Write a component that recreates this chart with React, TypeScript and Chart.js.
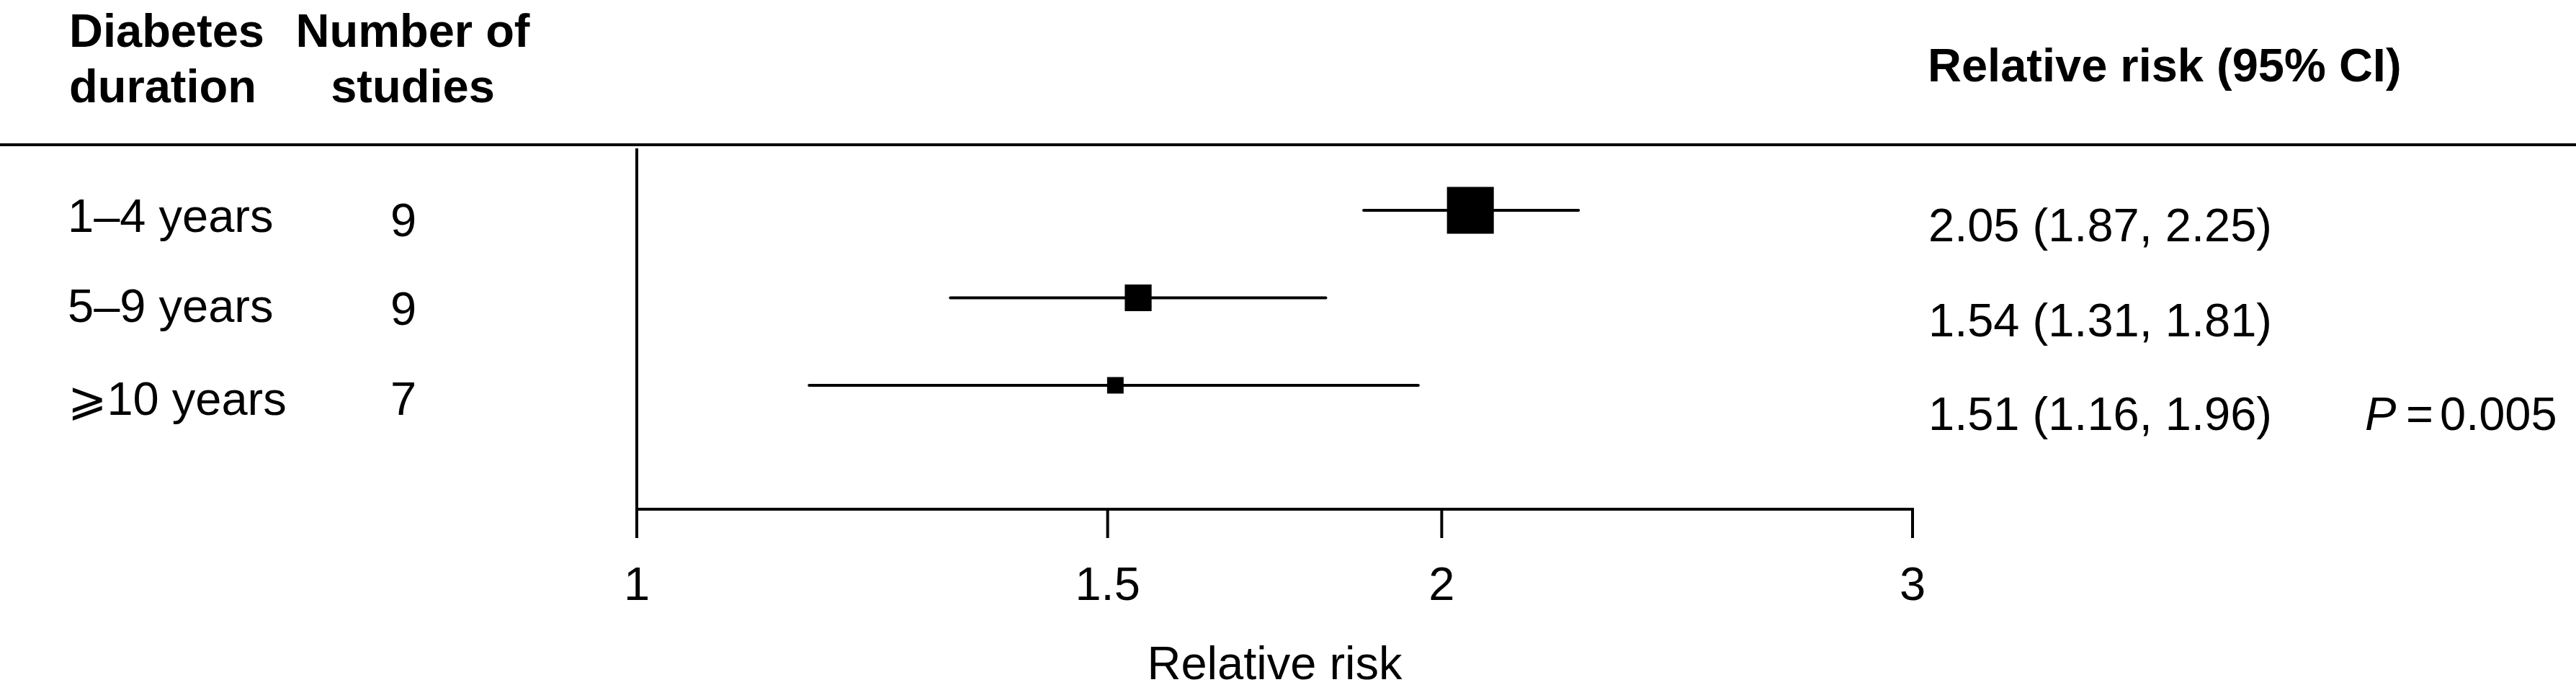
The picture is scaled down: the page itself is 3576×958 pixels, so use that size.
import React, { useEffect, useRef } from "react";
import { Chart, registerables } from "chart.js";

Chart.register(...registerables);

// ---------- data ----------
const durations = ["1–4 years", "5–9 years", "⩾10 years"];
const studyCounts = [9, 9, 7];
const relativeRisk = [2.05, 1.54, 1.51];
const ciLower = [1.87, 1.31, 1.16];
const ciUpper = [2.25, 1.81, 1.96];
const xTickValues = [1, 1.5, 2, 3];
const headerDuration = ["Diabetes", "duration"];
const headerStudies = ["Number of", "studies"];
const headerRR = "Relative risk (95% CI)";
const axisTitle = "Relative risk";
const pLabel = "P";
const pValue = "0.005";

// ---------- layout / style ----------
const W = 3576;
const H = 958;
const FONT_FAMILY = "'Liberation Sans', Arial, Helvetica, 'DejaVu Sans', sans-serif";
const FS = 65;
const LINE_W = 4;
const BOX_SCALE = 3.07; // box side (px) = BOX_SCALE / SE(log RR)
const PLOT = { left: 884, right: 2655, top: 206, bottom: 707 };
const Y_RANGE = { min: -0.708, max: 3.416 };
const TICK_LEN = 40;

const fmt = (v: number) => v.toFixed(2);

export default function App() {
  const ref = useRef<HTMLCanvasElement | null>(null);

  useEffect(() => {
    document.body.style.margin = "0";
    const canvas = ref.current!;
    const boxRadius = relativeRisk.map((_, i) => {
      const se = (Math.log(ciUpper[i]) - Math.log(ciLower[i])) / (2 * 1.96);
      const side = BOX_SCALE / se;
      return side / (2 * Math.SQRT1_2);
    });

    const ciSets = relativeRisk.map((_, i) => ({
      type: "line" as const,
      data: [
        { x: ciLower[i], y: i },
        { x: ciUpper[i], y: i },
      ],
      showLine: true,
      borderColor: "#000",
      borderWidth: LINE_W,
      borderCapStyle: "round" as const,
      pointRadius: 0,
      fill: false,
    }));

    const pointSet = {
      type: "scatter" as const,
      data: relativeRisk.map((v, i) => ({ x: v, y: i })),
      pointStyle: "rect" as const,
      pointRadius: boxRadius,
      backgroundColor: "#000",
      borderColor: "#000",
      borderWidth: 0,
    };

    const decor = {
      id: "forestDecor",
      afterDraw(chart: any) {
        const ctx: CanvasRenderingContext2D = chart.ctx;
        const xs = chart.scales.x;
        const area = chart.chartArea;
        ctx.save();
        ctx.strokeStyle = "#000";
        ctx.fillStyle = "#000";
        ctx.lineWidth = LINE_W;
        ctx.lineCap = "butt";

        // top rule
        ctx.beginPath();
        ctx.moveTo(0, 201);
        ctx.lineTo(W, 201);
        ctx.stroke();

        const x1 = xs.getPixelForValue(xTickValues[0]);
        const xEnd = xs.getPixelForValue(xTickValues[xTickValues.length - 1]);
        // y axis line
        ctx.beginPath();
        ctx.moveTo(x1, area.top);
        ctx.lineTo(x1, area.bottom + LINE_W / 2);
        ctx.stroke();
        // x axis line
        ctx.beginPath();
        ctx.moveTo(x1 - LINE_W / 2, area.bottom);
        ctx.lineTo(xEnd + LINE_W / 2, area.bottom);
        ctx.stroke();
        // ticks + labels
        ctx.font = `${FS}px ${FONT_FAMILY}`;
        ctx.textAlign = "center";
        ctx.textBaseline = "alphabetic";
        xTickValues.forEach((v) => {
          const px = xs.getPixelForValue(v);
          ctx.beginPath();
          ctx.moveTo(px, area.bottom);
          ctx.lineTo(px, area.bottom + TICK_LEN);
          ctx.stroke();
          ctx.fillText(String(v), px, 833);
        });
        // axis title
        ctx.fillText(axisTitle, (x1 + xEnd) / 2, 943);

        // headers
        ctx.font = `bold ${FS}px ${FONT_FAMILY}`;
        ctx.textAlign = "left";
        ctx.fillText(headerDuration[0], 96, 65);
        ctx.fillText(headerDuration[1], 96, 142);
        ctx.textAlign = "center";
        ctx.fillText(headerStudies[0], 573, 65);
        ctx.fillText(headerStudies[1], 573, 142);
        ctx.textAlign = "left";
        ctx.fillText(headerRR, 2676, 113);

        // rows
        const labelBase = [322, 447, 576];
        const countBase = [328, 451, 576];
        const rrBase = [335, 467, 597];
        ctx.font = `${FS}px ${FONT_FAMILY}`;
        durations.forEach((d, i) => {
          ctx.textAlign = "left";
          ctx.fillText(d, 94, labelBase[i]);
          ctx.textAlign = "center";
          ctx.fillText(String(studyCounts[i]), 560, countBase[i]);
          ctx.textAlign = "left";
          ctx.fillText(
            `${fmt(relativeRisk[i])} (${fmt(ciLower[i])}, ${fmt(ciUpper[i])})`,
            2677,
            rrBase[i]
          );
        });
        // P value
        ctx.font = `italic ${FS}px ${FONT_FAMILY}`;
        ctx.fillText(pLabel, 3283, rrBase[2]);
        ctx.font = `${FS}px ${FONT_FAMILY}`;
        ctx.fillText("=", 3340, rrBase[2]);
        ctx.fillText(pValue, 3387, rrBase[2]);
        ctx.restore();
      },
    };

    const chart = new Chart(canvas, {
      type: "scatter",
      data: { datasets: [...ciSets, pointSet] as any },
      options: {
        animation: false,
        responsive: false,
        devicePixelRatio: 1,
        events: [],
        layout: {
          padding: {
            left: PLOT.left,
            right: W - PLOT.right,
            top: PLOT.top,
            bottom: H - PLOT.bottom,
          },
        },
        scales: {
          x: { type: "logarithmic", min: 1, max: 3, display: false },
          y: { type: "linear", reverse: true, min: Y_RANGE.min, max: Y_RANGE.max, display: false },
        },
        plugins: { legend: { display: false }, tooltip: { enabled: false } },
      },
      plugins: [decor],
    });
    return () => chart.destroy();
  }, []);

  return (
    <div style={{ width: W, height: H, background: "#fff" }}>
      <canvas ref={ref} width={W} height={H} style={{ display: "block", width: W, height: H }} />
    </div>
  );
}
